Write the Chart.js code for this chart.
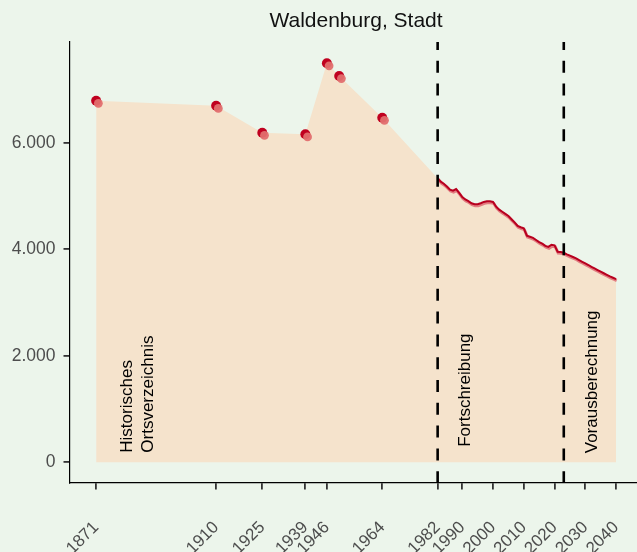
<!DOCTYPE html>
<html>
<head>
<meta charset="utf-8">
<script src="https://cdn.jsdelivr.net/npm/chart.js@4"></script>
<style>
  html, body { margin: 0; padding: 0; background: #ecf5eb; }
  #box { width: 637px; height: 552px; }
</style>
</head>
<body>
<div id="box"><canvas id="Chart" width="637" height="552"></canvas></div>
<script>
// Historisches Ortsverzeichnis
let histYears = [1871, 1910, 1925, 1939, 1946, 1950, 1964];
let histValues = [6790, 6695, 6190, 6160, 7495, 7255, 6470];

// Fortschreibung 1982-2023, Vorausberechnung 2023-2040
let lineYears = [];
for (let y = 1982; y <= 2040; y++) lineYears.push(y);
let lineValues = [
  5335, 5270, 5230, 5180, 5120, 5100, 5130, 5060, 4980, 4935,
  4905, 4865, 4845, 4845, 4865, 4890, 4900, 4900, 4890, 4800,
  4745, 4705, 4665, 4625, 4565, 4505, 4440, 4415, 4395, 4255,
  4235, 4215, 4175, 4135, 4105, 4065, 4045, 4085, 4075, 3955,
  3950, 3935, 3905, 3880, 3855, 3830, 3795, 3765, 3735, 3705,
  3670, 3640, 3610, 3580, 3550, 3520, 3490, 3465, 3440
];

let tickYears = [1871, 1910, 1925, 1939, 1946, 1964, 1982, 1990, 2000, 2010, 2020, 2030, 2040];
let yTicks = [0, 2000, 4000, 6000];
let phaseBreaks = [1982, 2023];
let phaseLabels = [
  { lines: ['Historisches', 'Ortsverzeichnis'], x: 1884.6, y: 180 },
  { lines: ['Fortschreibung'], x: 1991.1, y: 290 },
  { lines: ['Vorausberechnung'], x: 2032.3, y: 170 }
];

let histPts = histYears.map((x, i) => ({ x: x, y: histValues[i] }));
let linePts = lineYears.map((x, i) => ({ x: x, y: lineValues[i] }));
let areaPts = histPts.concat(linePts);

const FONT = "'Liberation Sans', Arial, Helvetica, sans-serif";

function fmt(v) {
  return String(v).replace(/\B(?=(\d{3})+(?!\d))/g, '.');
}

// small shift for the lighter "shadow" series
let shiftPlugin = {
  id: 'shift',
  beforeDatasetDraw(chart, args) {
    let s = chart.data.datasets[args.index].shift;
    if (s) {
      chart.ctx.save();
      chart.ctx.translate(s[0], s[1]);
    }
  },
  afterDatasetDraw(chart, args) {
    if (chart.data.datasets[args.index].shift) chart.ctx.restore();
  }
};

let decoPlugin = {
  id: 'deco',
  beforeDraw(chart) {
    let c = chart.ctx;
    c.save();
    c.fillStyle = '#ecf5eb';
    c.fillRect(0, 0, chart.width, chart.height);
    c.restore();
  },
  afterDatasetsDraw(chart) {
    let c = chart.ctx;
    let xs = chart.scales.x, ys = chart.scales.y, a = chart.chartArea;
    c.save();
    // Phasengrenzen
    c.strokeStyle = '#000';
    c.lineWidth = 2.6;
    c.setLineDash([12, 10.8]);
    c.lineDashOffset = 4;
    phaseBreaks.forEach(yr => {
      let px = xs.getPixelForValue(yr);
      c.beginPath();
      c.moveTo(px, a.top);
      c.lineTo(px, a.bottom);
      c.stroke();
    });
    c.setLineDash([]);
    // Beschriftungen
    c.fillStyle = '#000';
    c.font = '17px ' + FONT;
    c.textAlign = 'left';
    c.textBaseline = 'middle';
    phaseLabels.forEach(l => {
      let px = xs.getPixelForValue(l.x);
      let py = ys.getPixelForValue(l.y);
      let n = l.lines.length;
      l.lines.forEach((t, i) => {
        c.save();
        c.translate(px + (i - (n - 1) / 2) * 21, py);
        c.rotate(-Math.PI / 2);
        c.fillText(t, 0, 0);
        c.restore();
      });
    });
    // Titel
    c.fillStyle = '#111';
    c.font = '21px ' + FONT;
    c.textAlign = 'center';
    c.textBaseline = 'alphabetic';
    c.fillText('Waldenburg, Stadt', 356, 27);
    c.restore();
  }
};

let ctx = document.getElementById('Chart').getContext('2d');
let chart = new Chart(ctx, {
  type: 'line',
  data: {
    datasets: [
      {
        label: 'Fläche',
        data: areaPts,
        fill: 'origin',
        backgroundColor: '#f5e3cc',
        borderWidth: 0,
        pointRadius: 0,
        tension: 0,
        order: 10
      },
      {
        label: 'Linie hell',
        data: linePts,
        borderColor: '#e27c80',
        borderWidth: 3,
        pointRadius: 0,
        fill: false,
        tension: 0,
        shift: [0.6, 1.4],
        order: 8
      },
      {
        label: 'Linie',
        data: linePts,
        borderColor: '#b8001f',
        borderWidth: 2,
        pointRadius: 0,
        fill: false,
        tension: 0,
        order: 7
      },
      {
        label: 'Punkte',
        data: histPts,
        showLine: false,
        pointRadius: 5,
        pointBackgroundColor: '#c0001f',
        pointBorderWidth: 0,
        order: 6
      },
      {
        label: 'Punkte hell',
        data: histPts,
        showLine: false,
        pointRadius: 4.4,
        pointBackgroundColor: 'rgba(226,110,110,0.95)',
        pointBorderWidth: 0,
        shift: [2.2, 2.6],
        order: 5
      }
    ]
  },
  options: {
    responsive: false,
    animation: false,
    events: [],
    layout: { autoPadding: false, padding: { top: 42, left: 0, right: 0, bottom: 0 } },
    plugins: {
      legend: { display: false },
      tooltip: { enabled: false },
      title: { display: false }
    },
    scales: {
      x: {
        type: 'linear',
        min: 1862.5,
        max: 2046.8,
        afterBuildTicks(scale) {
          scale.ticks = tickYears.map(v => ({ value: v }));
        },
        afterFit(scale) {
          scale.height = 69;
          scale.paddingLeft = 0;
          scale.paddingRight = 0;
        },
        grid: {
          display: true,
          drawOnChartArea: false,
          drawTicks: true,
          tickLength: 6.5,
          color: '#333',
          lineWidth: 1.8
        },
        border: { display: true, color: '#000', width: 1.2 },
        ticks: {
          autoSkip: false,
          maxRotation: 45,
          minRotation: 45,
          padding: 28,
          color: '#4d4d4d',
          font: { family: FONT, size: 17 },
          callback: v => String(v)
        }
      },
      y: {
        type: 'linear',
        min: -389,
        max: 7893,
        afterBuildTicks(scale) {
          scale.ticks = yTicks.map(v => ({ value: v }));
        },
        afterFit(scale) {
          scale.width = 70;
          scale.paddingTop = 0;
          scale.paddingBottom = 0;
        },
        grid: {
          display: true,
          drawOnChartArea: false,
          drawTicks: true,
          tickLength: 6.5,
          color: '#333',
          lineWidth: 1.8
        },
        border: { display: true, color: '#000', width: 1.2 },
        ticks: {
          padding: 8,
          color: '#4d4d4d',
          font: { family: FONT, size: 17.5 },
          callback: v => fmt(v)
        }
      }
    }
  },
  plugins: [shiftPlugin, decoPlugin]
});
</script>
</body>
</html>
